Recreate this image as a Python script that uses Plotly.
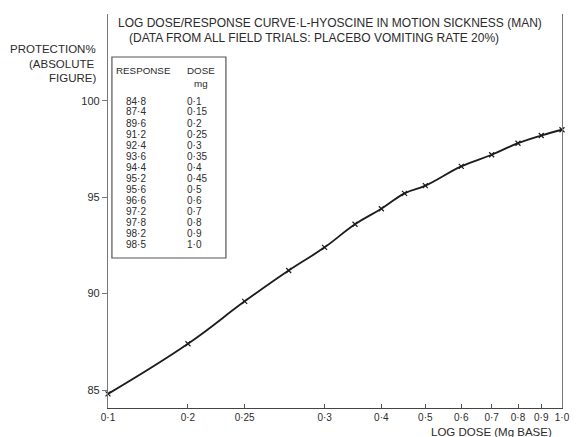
import plotly.graph_objects as go

# Dose (mg, log scale) and percentage protection
dose_mg = [0.1, 0.15, 0.2, 0.25, 0.3, 0.35, 0.4, 0.45, 0.5, 0.6, 0.7, 0.8, 0.9, 1.0]
response = [84.8, 87.4, 89.6, 91.2, 92.4, 93.6, 94.4, 95.2, 95.6, 96.6, 97.2, 97.8, 98.2, 98.5]

# Table text as printed
table_response = ["84·8", "87·4", "89·6", "91·2", "92·4", "93·6", "94·4",
                  "95·2", "95·6", "96·6", "97·2", "97·8", "98·2", "98·5"]
table_dose = ["0·1", "0·15", "0·2", "0·25", "0·3", "0·35", "0·4",
              "0·45", "0·5", "0·6", "0·7", "0·8", "0·9", "1·0"]

# X-axis tick positions and the labels printed under them
x_tickvals = [0.1, 0.15, 0.2, 0.3, 0.4, 0.5, 0.6, 0.7, 0.8, 0.9, 1.0]
x_ticktext = ["0·1", "0·2", "0·25", "0·3", "0·4", "0·5", "0·6", "0·7", "0·8", "0·9", "1·0"]
y_tickvals = [85, 90, 95, 100]

W, H = 579, 437
L, R, T, B = 108, 9, 14, 29
PW, PH = W - L - R, H - T - B
INK = "#2b2b2b"
FONT = "Liberation Sans"


def px(x):
    return (x - L) / PW


def py(y):
    return (H - B - y) / PH


def label(x, y, text, size, anchor="center"):
    return dict(x=px(x), y=py(y), xref="paper", yref="paper", xanchor=anchor, yanchor="middle",
                text=text, showarrow=False, font=dict(family=FONT, size=size, color=INK))


fig = go.Figure()
fig.add_trace(go.Scatter(
    x=dose_mg, y=response, mode="lines+markers",
    line=dict(color="#1c1c1c", width=1.8, shape="spline", smoothing=1.2),
    marker=dict(symbol="x-thin", size=5, line=dict(color="#1c1c1c", width=1.2)),
    showlegend=False, cliponaxis=False,
))

ann = [
    label(116, 23, "LOG DOSE/RESPONSE CURVE·L-HYOSCINE IN MOTION SICKNESS (MAN)", 12, "left"),
    label(127, 38, "(DATA FROM ALL FIELD TRIALS: PLACEBO VOMITING RATE 20%)", 12, "left"),
    label(98, 49, "PROTECTION%", 11.5, "right"),
    label(97, 64, "(ABSOLUTE", 11.5, "right"),
    label(98, 78, "FIGURE)", 11.5, "right"),
    label(498, 431.5, "LOG DOSE (Mg BASE)", 11.5),
    label(144, 70, "RESPONSE", 9.8),
    label(203, 70, "DOSE", 9.8),
    label(203, 83, "mg", 9.8),
]
row0, dy = 101, 11.0
for i, (r, d) in enumerate(zip(table_response, table_dose)):
    yy = row0 + i * dy
    ann.append(label(137, yy, r, 10))
    ann.append(label(186, yy, d, 10, "left"))

fig.add_shape(type="rect", xref="paper", yref="paper",
              x0=px(112), x1=px(228), y0=py(258), y1=py(57),
              line=dict(color="#555555", width=1.2), fillcolor="rgba(0,0,0,0)")

fig.update_layout(
    width=W, height=H,
    margin=dict(l=L, r=R, t=T, b=B, pad=0),
    paper_bgcolor="white", plot_bgcolor="white",
    annotations=ann,
    font=dict(family=FONT, color=INK),
)
fig.update_xaxes(
    type="log", range=[-1, 0], tickvals=x_tickvals, ticktext=x_ticktext,
    ticks="inside", ticklen=4, tickcolor="#555555", tickwidth=1,
    showline=True, linecolor="#444444", linewidth=1.3, mirror=False,
    showgrid=False, zeroline=False, tickfont=dict(size=10, color=INK, family=FONT),
)
fig.update_yaxes(
    range=[84.07, 104.5], tickvals=y_tickvals,
    ticks="outside", ticklen=5, tickcolor="#777777", tickwidth=1,
    showline=True, linecolor="#777777", linewidth=1.3, mirror=True,
    showgrid=False, zeroline=False, tickfont=dict(size=11, color=INK, family=FONT),
)

fig.write_html("out.html")
